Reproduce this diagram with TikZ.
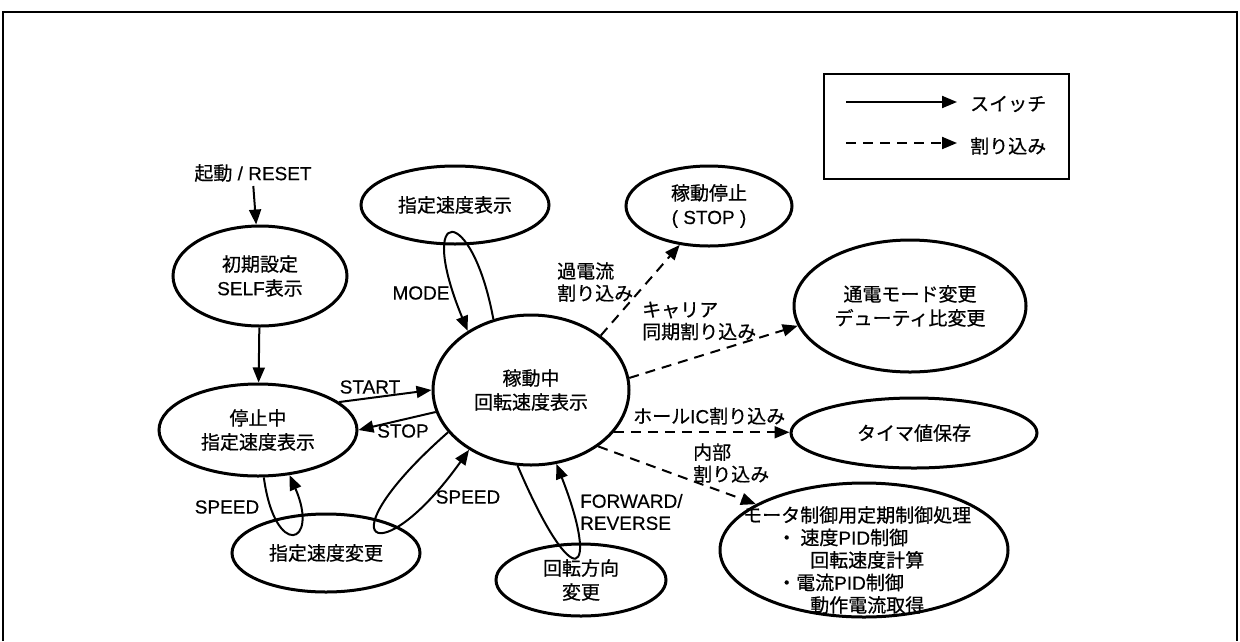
\documentclass[tikz,border=0pt]{standalone}
\usepackage{fontspec}
\setmainfont[FakeBold=0.4]{Liberation Sans}
\newfontfamily\jpfont[FakeBold=0.6]{Noto Sans CJK JP}
\newcommand{\ja}[1]{{\jpfont #1}}
\usepackage{tikz}
\usetikzlibrary{arrows.meta}
\usetikzlibrary{shapes.geometric}

\tikzset{
  state/.style={ellipse, draw, line width=3pt, inner sep=0pt, align=center},
  sw/.style={line width=2pt, -{Triangle[length=15pt, width=12pt]}},
  irq/.style={sw, dash pattern=on 10pt off 7pt},
  lbl/.style={inner sep=0pt, align=left, font=\fontsize{19}{22}\selectfont}
}

\begin{document}
\begin{tikzpicture}[x=1pt, y=-1pt, font=\fontsize{19}{24}\selectfont]

    \useasboundingbox (0, 0) rectangle (1240, 641);
    \draw [line width=1.8pt] (3, 641) -- (3, 12) -- (1237, 12) -- (1237, 641);
    \draw [line width=2.8pt] (3, 12) -- (1237, 12);

    \node [state, minimum width=174pt, minimum height=100pt] (init) at (260, 276)
    {\ja{初期設定}\\SELF\ja{表示}};
    \node [state, minimum width=198pt, minimum height=92pt] (halt) at (258, 430)
    {\ja{停止中}\\\ja{指定速度表示}};
    \node [state, minimum width=196pt, minimum height=150pt] (run) at (531, 390)
    {\ja{稼動中}\\\ja{回転速度表示}};
    \node [state, minimum width=188pt, minimum height=78pt] (spd) at (455, 205)
    {\ja{指定速度表示}};
    \node [state, minimum width=188pt, minimum height=78pt] (chg) at (326, 553)
    {\ja{指定速度変更}};
    \node [state, minimum width=170pt, minimum height=72pt] (dir) at (581, 580)
    {\ja{回転方向}\\\ja{変更}};
    \node [state, minimum width=166pt, minimum height=80pt] (stop) at (709, 206)
    {\ja{稼動停止}\\( STOP )};
    \node [state, minimum width=232pt, minimum height=132pt] (cur) at (910, 306)
    {\ja{通電モード変更}\\\ja{デューティ比変更}};
    \node [state, minimum width=246pt, minimum height=70pt] (tmr) at (914, 433)
    {\ja{タイマ値保存}};
    \node [state, minimum width=288pt, minimum height=134pt] (mot) at (864, 550) {};
    \node [lbl, anchor=west, font=\fontsize{19}{22.5}\selectfont] (mottxt) at (743, 560)
    {\ja{モータ制御用定期制御処理}\\
     \hspace*{34pt}\ja{・ 速度}PID\ja{制御}\\
     \hspace*{67pt}\ja{回転速度計算}\\
     \hspace*{34pt}\ja{・電流}PID\ja{制御}\\
     \hspace*{67pt}\ja{動作電流取得}};

    \node [lbl] (reset) at (253, 173) {\ja{起動} / RESET};
    \draw [sw, shorten <=4pt] (reset.south) -- (init);
    \draw [sw] (init) -- (halt);

    \draw [sw] (halt.19) -- (run.180);
    \node [lbl] (lstart) at (370, 387) {START};
    \draw [sw] (run.193) -- (halt.0);
    \node [lbl] (lstop) at (403, 431) {STOP};

    \draw [sw] (run.118) .. controls (472, 203) and (415, 203) .. (run.137);
    \node [lbl] (lmode) at (421, 293) {MODE};

    \draw [sw] (halt.277) .. controls (275, 560) and (320, 545) .. (halt.305);
    \node [lbl] (lspda) at (227, 507) {SPEED};
    \draw [sw] (run.207) .. controls (320, 545) and (380, 575) .. (run.224);
    \node [lbl] (lspdb) at (468, 497) {SPEED};

    \draw [sw] (run.260) .. controls (575, 600) and (600, 575) .. (run.289);
    \node [lbl, anchor=west] (lfwd) at (580, 512) {FORWARD/\\REVERSE};

    \draw [irq] (run.38) -- (stop.233);
    \node [lbl, anchor=west] (locur) at (557, 282) {\ja{過電流}\\\ja{割り込み}};
    \draw [irq] (run.7) -- (cur.190);
    \node [lbl, anchor=west] (lcar) at (642, 321) {\ja{キャリア}\\\ja{同期割り込み}};
    \draw [irq] (run.333) -- (run.333 -| tmr.west);
    \node [lbl, anchor=west] (lhall) at (633, 416) {\ja{ホール}IC\ja{割り込み}};
    \draw [irq] (run.320) -- (mot.157);
    \node [lbl, anchor=west] (lint) at (693, 463) {\ja{内部}\\\ja{割り込み}};

    \node [draw, line width=2pt, inner sep=0pt, minimum width=245pt, minimum height=105pt]
    (key) at (946.5, 126.5) {};
    \coordinate (swa) at (846, 102);
    \coordinate (swb) at (957, 102);
    \draw [sw] (swa) -- (swb);
    \node [lbl, anchor=west] (swtxt) at (970, 104) {\ja{スイッチ}};
    \coordinate (irqa) at (846, 143);
    \coordinate (irqb) at (957, 143);
    \draw [irq] (irqa) -- (irqb);
    \node [lbl, anchor=west] (irqtxt) at (970, 146) {\ja{割り込み}};

\end{tikzpicture}
\end{document}
